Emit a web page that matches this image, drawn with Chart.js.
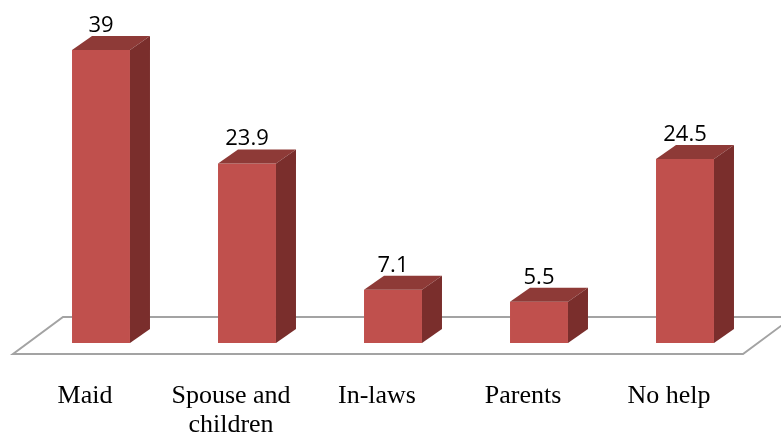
<!DOCTYPE html>
<html>
<head>
<meta charset="utf-8">
<script src="https://cdn.jsdelivr.net/npm/chart.js@4/dist/chart.umd.min.js"></script>
<style>
  html, body { margin: 0; padding: 0; background: #ffffff; }
  #wrap { width: 781px; height: 434px; }
</style>
</head>
<body>
<div id="wrap"><canvas id="c" width="781" height="434"></canvas></div>
<script>
// Who helps with the housework (%)
const categories = ['Maid', ['Spouse and', 'children'], 'In-laws', 'Parents', 'No help'];
const helpShares = [39, 23.9, 7.1, 5.5, 24.5];
const valueLabels = ['39', '23.9', '7.1', '5.5', '24.5'];

const FRONT = '#C0504D';
const TOP = '#8E3A37';
const SIDE = '#7A2E2C';
const DEPTH_X = 20, DEPTH_Y = 14;

// White floor plate behind the columns
const floorPlugin = {
  id: 'floor',
  beforeDatasetsDraw(chart) {
    const { ctx, chartArea: a } = chart;
    const frontY = a.bottom + 11, backY = a.bottom - 26;
    const x0 = a.left - 15, x1 = a.right - 15, dx = 50;
    ctx.save();
    ctx.beginPath();
    ctx.moveTo(x0, frontY);
    ctx.lineTo(x1, frontY);
    ctx.lineTo(x1 + dx, backY);
    ctx.lineTo(x0 + dx, backY);
    ctx.closePath();
    ctx.fillStyle = '#ffffff';
    ctx.fill();
    ctx.strokeStyle = '#A3A3A3';
    ctx.lineWidth = 2;
    ctx.stroke();
    ctx.restore();
  }
};

// Top and side faces of each column, plus the value above it
const boxPlugin = {
  id: 'box3d',
  afterDatasetsDraw(chart) {
    const { ctx } = chart;
    const meta = chart.getDatasetMeta(0);
    ctx.save();
    meta.data.forEach((bar, i) => {
      const { x, y, base, width } = bar.getProps(['x', 'y', 'base', 'width'], true);
      const l = x - width / 2, r = x + width / 2;
      // top face
      ctx.beginPath();
      ctx.moveTo(l, y);
      ctx.lineTo(l + DEPTH_X, y - DEPTH_Y);
      ctx.lineTo(r + DEPTH_X, y - DEPTH_Y);
      ctx.lineTo(r, y);
      ctx.closePath();
      ctx.fillStyle = TOP;
      ctx.fill();
      // side face
      ctx.beginPath();
      ctx.moveTo(r, y);
      ctx.lineTo(r + DEPTH_X, y - DEPTH_Y);
      ctx.lineTo(r + DEPTH_X, base - DEPTH_Y);
      ctx.lineTo(r, base);
      ctx.closePath();
      ctx.fillStyle = SIDE;
      ctx.fill();
      // value label
      ctx.fillStyle = '#000000';
      ctx.font = "22px 'Open Sans', 'Liberation Sans', sans-serif";
      ctx.textAlign = 'center';
      ctx.textBaseline = 'alphabetic';
      ctx.fillText(valueLabels[i], x, y - 18);
    });
    ctx.restore();
  }
};

new Chart(document.getElementById('c'), {
  type: 'bar',
  data: {
    labels: categories,
    datasets: [{
      data: helpShares,
      backgroundColor: FRONT,
      borderWidth: 0,
      barPercentage: 0.397,
      categoryPercentage: 1.0
    }]
  },
  options: {
    responsive: false,
    devicePixelRatio: 1,
    animation: false,
    layout: { padding: { top: 5, left: 28, right: 23, bottom: 0 } },
    plugins: {
      legend: { display: false },
      tooltip: { enabled: false }
    },
    scales: {
      y: { display: false, min: 0, max: 45 },
      x: {
        grid: { display: false, drawTicks: false },
        border: { display: false },
        ticks: {
          color: '#000000',
          padding: 39,
          labelOffset: -16,
          maxRotation: 0,
          autoSkip: false,
          font: { family: "'Liberation Serif', 'Times New Roman', serif", size: 26, lineHeight: 1.1 }
        },
        afterFit(scale) { scale.height = 91; }
      }
    }
  },
  plugins: [floorPlugin, boxPlugin]
});
</script>
</body>
</html>
